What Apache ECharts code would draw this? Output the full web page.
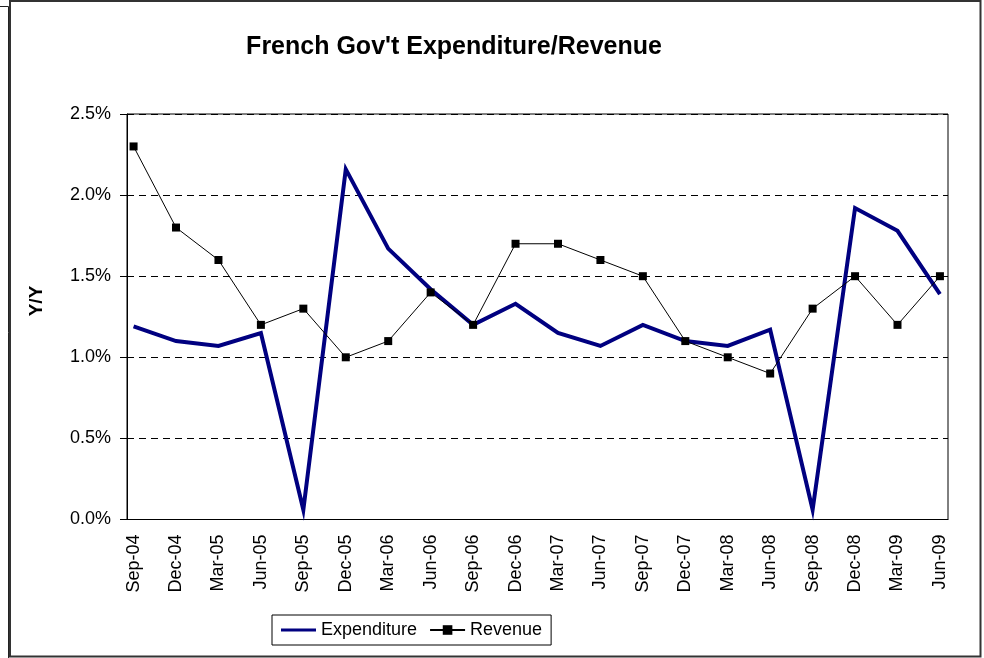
<!DOCTYPE html>
<html>
<head>
<meta charset="utf-8">
<script src="https://cdn.jsdelivr.net/npm/echarts@6/dist/echarts.min.js"></script>
<style>
  html, body { margin: 0; padding: 0; background: #fff; }
  #chart { width: 984px; height: 658px; }
</style>
</head>
<body>
<div id="chart"></div>
<script>
// Quarterly year-on-year growth, in percent
const quarters = ['Sep-04','Dec-04','Mar-05','Jun-05','Sep-05','Dec-05','Mar-06','Jun-06','Sep-06','Dec-06',
                  'Mar-07','Jun-07','Sep-07','Dec-07','Mar-08','Jun-08','Sep-08','Dec-08','Mar-09','Jun-09'];
const expenditure = [1.19, 1.10, 1.07, 1.15, 0.06, 2.16, 1.67, 1.42, 1.20, 1.33,
                     1.15, 1.07, 1.20, 1.10, 1.07, 1.17, 0.06, 1.92, 1.78, 1.39];
const revenue = [2.3, 1.8, 1.6, 1.2, 1.3, 1.0, 1.1, 1.4, 1.2, 1.7,
                 1.7, 1.6, 1.5, 1.1, 1.0, 0.9, 1.3, 1.5, 1.2, 1.5];
const yTicks = [0, 0.5, 1.0, 1.5, 2.0, 2.5];

const FONT = 'Arial, "Liberation Sans", sans-serif';
const toPairs = arr => arr.map((v, i) => [i, v]);

// plain thick bar for the expenditure legend key (tiny corner dots keep the box size)
const lineKey = 'path://M0,0 L0.01,0 L0.01,0.01 Z M0,4.5 L35,4.5 L35,7.5 L0,7.5 Z M35,12 L34.99,12 L34.99,11.99 Z';

const chart = echarts.init(document.getElementById('chart'), null, { renderer: 'canvas' });

chart.setOption({
  backgroundColor: '#fff',
  animation: false,
  title: {
    text: "French Gov't Expenditure/Revenue",
    left: 449,
    textAlign: 'center',
    top: 30,
    textStyle: { fontFamily: FONT, fontSize: 25, fontWeight: 'bold', color: '#000' }
  },
  legend: {
    left: 272,
    top: 615,
    padding: [6, 9, 6, 9],
    itemGap: 12,
    itemWidth: 35,
    itemHeight: 12,
    borderColor: '#000',
    borderWidth: 1,
    textStyle: { fontFamily: FONT, fontSize: 18, color: '#000' },
    data: [
      { name: 'Expenditure', icon: lineKey, itemStyle: { color: '#000080' } },
      { name: 'Revenue' }
    ]
  },
  grid: {
    left: 127,
    top: 114,
    width: 821,
    height: 405.5,
    show: true,
    borderColor: '#000',
    borderWidth: 1,
    containLabel: false
  },
  xAxis: {
    type: 'value',
    min: -0.155,
    max: 19.19,
    splitLine: { show: false },
    axisTick: { show: false },
    axisLine: { show: true, onZero: false, lineStyle: { color: '#000', width: 1 } },
    axisLabel: {
      customValues: quarters.map((q, i) => i),
      formatter: v => quarters[Math.round(v)],
      rotate: 90,
      margin: 15,
      fontFamily: FONT,
      fontSize: 18,
      color: '#000'
    }
  },
  yAxis: {
    type: 'value',
    min: yTicks[0],
    max: yTicks[yTicks.length - 1],
    interval: 0.5,
    axisLine: { show: true, onZero: false, lineStyle: { color: '#000', width: 1 } },
    axisTick: { show: true, inside: false, length: 7, lineStyle: { color: '#000' } },
    axisLabel: {
      formatter: v => v.toFixed(1) + '%',
      margin: 16,
      fontFamily: FONT,
      fontSize: 18,
      color: '#000'
    },
    splitLine: { show: true, lineStyle: { color: '#000', width: 1, type: [7, 5] } }
  },
  series: [
    {
      name: 'Expenditure',
      type: 'line',
      data: toPairs(expenditure),
      symbol: 'none',
      lineStyle: { color: '#000080', width: 4, join: 'miter' },
      itemStyle: { color: '#000080' },
      z: 3
    },
    {
      name: 'Revenue',
      type: 'line',
      data: toPairs(revenue),
      symbol: 'rect',
      symbolSize: 8,
      lineStyle: { color: '#000', width: 1 },
      itemStyle: { color: '#000', borderWidth: 0 },
      z: 4
    }
  ],
  graphic: [
    {
      type: 'text',
      x: 37,
      y: 301,
      rotation: Math.PI / 2,
      style: { text: 'Y/Y', font: 'bold 19px ' + FONT, fill: '#000', align: 'center', verticalAlign: 'middle' },
      silent: true
    },
    {
      type: 'rect',
      shape: { x: 10, y: 1, width: 970.5, height: 655.5 },
      style: { fill: 'none', stroke: '#333', lineWidth: 2 },
      silent: true
    },
    {
      type: 'polyline',
      shape: { points: [[0, 6.5], [8.5, 6.5], [8.5, 658]] },
      style: { fill: 'none', stroke: '#222', lineWidth: 1 },
      silent: true
    }
  ]
});
</script>
</body>
</html>
